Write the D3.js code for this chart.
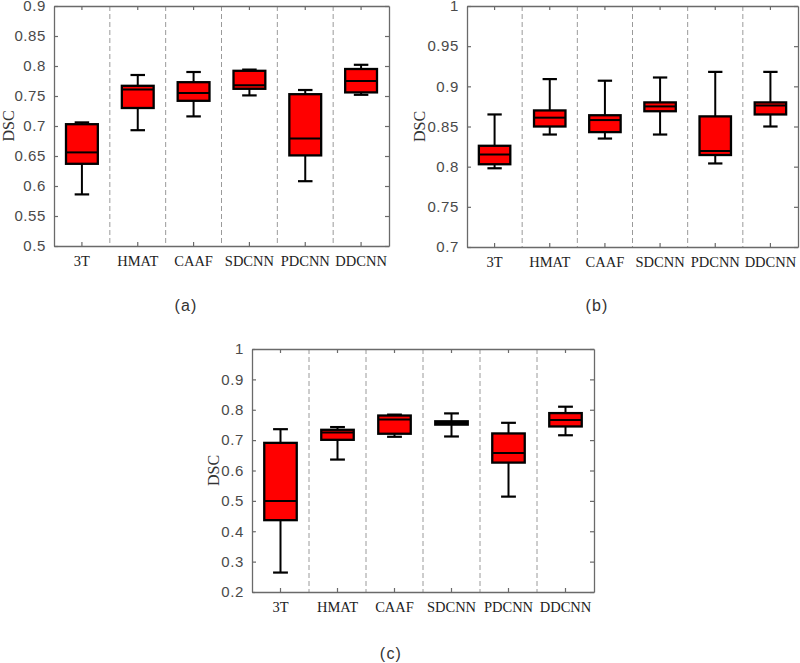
<!DOCTYPE html>
<html><head><meta charset="utf-8">
<script src="https://cdn.jsdelivr.net/npm/d3@7"></script>
<style>
body{margin:0;background:#fff;}
svg{display:block;}
</style></head>
<body>
<svg id="chart" width="800" height="663"></svg>
<script>
// ---- data ----
const categories = ["3T","HMAT","CAAF","SDCNN","PDCNN","DDCNN"];
// each entry: [lower whisker, Q1, median, Q3, upper whisker]
const statsA = [
  [0.586,0.637,0.656,0.703,0.706],
  [0.693,0.730,0.761,0.767,0.785],
  [0.716,0.742,0.755,0.773,0.790],
  [0.751,0.762,0.768,0.792,0.794],
  [0.608,0.651,0.679,0.753,0.760],
  [0.752,0.756,0.775,0.795,0.802]
];
const statsB = [
  [0.798,0.803,0.815,0.826,0.865],
  [0.840,0.850,0.861,0.870,0.909],
  [0.835,0.843,0.858,0.864,0.907],
  [0.840,0.869,0.875,0.880,0.911],
  [0.804,0.8145,0.8195,0.8626,0.918],
  [0.850,0.865,0.876,0.880,0.918]
];
const statsC = [
  [0.264,0.4365,0.500,0.691,0.736],
  [0.636,0.701,0.725,0.734,0.743],
  [0.711,0.721,0.768,0.781,0.784],
  [0.712,0.751,0.756,0.762,0.788],
  [0.514,0.626,0.658,0.722,0.757],
  [0.716,0.745,0.766,0.789,0.810]
];
const ticksA = [0.5,0.55,0.6,0.65,0.7,0.75,0.8,0.85,0.9];
const ticksB = [0.7,0.75,0.8,0.85,0.9,0.95,1];
const ticksC = [0.2,0.3,0.4,0.5,0.6,0.7,0.8,0.9,1];
const domainA = [0.5,0.9], domainB = [0.7,1], domainC = [0.2,1];
const panelLabels = ["(a)","(b)","(c)"];

// ---- layout ----
const panels = [
  {stats:statsA, ticks:ticksA, domain:domainA, label:panelLabels[0],
   x0:54, x1:389, y0:6, y1:246, ylabX:8, capX:186, capY:311},
  {stats:statsB, ticks:ticksB, domain:domainB, label:panelLabels[1],
   x0:467, x1:798, y0:6, y1:247, ylabX:419, capX:597, capY:311},
  {stats:statsC, ticks:ticksC, domain:domainC, label:panelLabels[2],
   x0:252, x1:594, y0:349, y1:592, ylabX:213, capX:391, capY:659}
];

const svg = d3.select("#chart");
const tickFont = "'Liberation Sans', Arial, sans-serif";
const serif = "'Liberation Serif', 'Times New Roman', serif";
const fmt = d => String(+d.toFixed(2));

panels.forEach(p => {
  const g = svg.append("g");
  const x = d3.scaleBand().domain(categories).range([p.x0, p.x1]).padding(0);
  const y = d3.scaleLinear().domain(p.domain).range([p.y1, p.y0]);
  const bw = x.bandwidth();
  const boxW = bw * 0.57, capW = bw * 0.26;

  // dashed separators
  g.selectAll("line.sep").data(categories.slice(1)).join("line")
    .attr("x1", d => x(d)).attr("x2", d => x(d))
    .attr("y1", p.y0).attr("y2", p.y1)
    .attr("stroke", "#9a9a9a").attr("stroke-width", 1)
    .attr("stroke-dasharray", "5,3");

  // axes
  const left = d3.axisLeft(y).tickValues(p.ticks).tickFormat(fmt).tickSizeInner(-4).tickSizeOuter(0).tickPadding(8);
  const right = d3.axisRight(y).tickValues(p.ticks).tickFormat("").tickSizeInner(-4).tickSizeOuter(0);
  const bottom = d3.axisBottom(x).tickSizeInner(-4).tickSizeOuter(0).tickPadding(10);
  const top = d3.axisTop(x).tickFormat("").tickSizeInner(-4).tickSizeOuter(0);

  const gl = g.append("g").attr("transform", `translate(${p.x0},0)`).call(left);
  const gr = g.append("g").attr("transform", `translate(${p.x1},0)`).call(right);
  const gb = g.append("g").attr("transform", `translate(0,${p.y1})`).call(bottom);
  const gt = g.append("g").attr("transform", `translate(0,${p.y0})`).call(top);
  [gl,gr,gb,gt].forEach(a => {
    a.select(".domain").attr("stroke", "#6a6a6a").attr("stroke-width", 1.3);
    a.selectAll(".tick line").attr("stroke", "#6a6a6a").attr("stroke-width", 1.2);
  });
  gl.selectAll(".tick text").attr("font-family", tickFont).attr("font-size", 15)
    .attr("letter-spacing", 0.6).attr("fill", "#4a4a4a");
  gb.selectAll(".tick text").attr("font-family", serif).attr("font-size", 14.5)
    .attr("fill", "#222");

  // y label
  g.append("text").attr("transform", `translate(${p.ylabX},${(p.y0+p.y1)/2}) rotate(-90)`)
    .attr("text-anchor", "middle").attr("dominant-baseline", "central")
    .attr("font-family", serif).attr("font-size", 16).attr("fill", "#333").text("DSC");

  // boxes
  const bx = g.selectAll("g.box").data(p.stats.map((s,i) => ({cat:categories[i], s}))).join("g");
  bx.append("line")
    .attr("x1", d => x(d.cat)+bw/2).attr("x2", d => x(d.cat)+bw/2)
    .attr("y1", d => y(d.s[0])).attr("y2", d => y(d.s[1]))
    .attr("stroke", "#000").attr("stroke-width", 2);
  bx.append("line")
    .attr("x1", d => x(d.cat)+bw/2).attr("x2", d => x(d.cat)+bw/2)
    .attr("y1", d => y(d.s[3])).attr("y2", d => y(d.s[4]))
    .attr("stroke", "#000").attr("stroke-width", 2);
  [0,4].forEach(k => {
    bx.append("line")
      .attr("x1", d => x(d.cat)+bw/2-capW/2).attr("x2", d => x(d.cat)+bw/2+capW/2)
      .attr("y1", d => y(d.s[k])).attr("y2", d => y(d.s[k]))
      .attr("stroke", "#000").attr("stroke-width", 2.2);
  });
  bx.append("rect")
    .attr("x", d => x(d.cat)+bw/2-boxW/2).attr("width", boxW)
    .attr("y", d => y(d.s[3])).attr("height", d => y(d.s[1]) - y(d.s[3]))
    .attr("fill", "#ff0000").attr("stroke", "#000").attr("stroke-width", 2.3);
  bx.append("line")
    .attr("x1", d => x(d.cat)+bw/2-boxW/2).attr("x2", d => x(d.cat)+bw/2+boxW/2)
    .attr("y1", d => y(d.s[2])).attr("y2", d => y(d.s[2]))
    .attr("stroke", "#000").attr("stroke-width", 2);

  // panel caption
  g.append("text").attr("x", p.capX).attr("y", p.capY).attr("text-anchor", "middle")
    .attr("font-family", tickFont).attr("font-size", 16).attr("letter-spacing", 1.2)
    .attr("fill", "#333").text(p.label);
});
</script>
</body></html>
